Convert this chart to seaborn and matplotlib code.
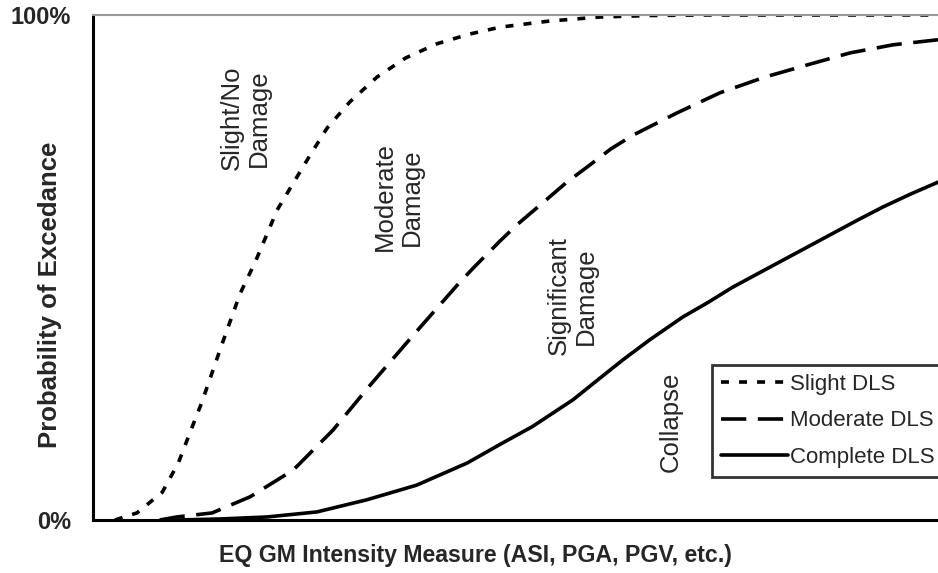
import numpy as np
import pandas as pd
import matplotlib
matplotlib.use("Agg")
import matplotlib.pyplot as plt
import seaborn as sns

# fragility curves (x = relative intensity measure, 0-100)
slight_x = [2.6, 5.2, 8.2, 10.1, 11.5, 12.9, 15.2, 17.4, 19.2, 21.8, 23.7, 25.6, 27.7,
            30.4, 33.6, 37.0, 40.7, 44.5, 48.2, 54.0, 60.0, 66.0, 72.0, 100.0]
slight_p = [0.0, 0.014, 0.055, 0.113, 0.174, 0.234, 0.345, 0.448, 0.511, 0.614, 0.667, 0.720, 0.776,
            0.828, 0.877, 0.915, 0.943, 0.962, 0.976, 0.988, 0.996, 0.999, 1.0, 1.0]

moderate_x = [7.9, 9.9, 14.1, 18.6, 23.7, 28.4, 32.8, 37.9, 43.1, 45.0, 48.2, 50.2, 53.5, 56.0,
              58.8, 61.3, 63.9, 69.1, 74.2, 79.5, 84.5, 89.6, 94.7, 100.0]
moderate_p = [0.0, 0.006, 0.014, 0.046, 0.099, 0.178, 0.267, 0.366, 0.465, 0.499, 0.553, 0.585, 0.632, 0.668,
              0.703, 0.735, 0.762, 0.806, 0.846, 0.877, 0.901, 0.925, 0.941, 0.951]

complete_x = [9.9, 15.0, 20.6, 26.5, 32.4, 38.3, 44.3, 48.2, 52.0, 56.8, 60.0, 62.7, 65.9, 69.8,
              72.8, 75.7, 78.7, 81.7, 84.6, 87.6, 90.5, 93.5, 96.7, 100.0]
complete_p = [0.0, 0.002, 0.006, 0.016, 0.040, 0.069, 0.113, 0.150, 0.185, 0.238, 0.281, 0.317, 0.357, 0.402,
              0.431, 0.461, 0.488, 0.515, 0.541, 0.568, 0.594, 0.620, 0.645, 0.669]

states = ["Slight DLS", "Moderate DLS", "Complete DLS"]
damage_labels = ["Slight/No\nDamage", "Moderate\nDamage", "Significant\nDamage", "Collapse"]
label_x = [18.0, 36.1, 56.7, 68.4]
label_p = [0.796, 0.640, 0.444, 0.194]

df = pd.concat([
    pd.DataFrame({"im": slight_x, "p": slight_p, "state": states[0]}),
    pd.DataFrame({"im": moderate_x, "p": moderate_p, "state": states[1]}),
    pd.DataFrame({"im": complete_x, "p": complete_p, "state": states[2]}),
])

sns.set_theme(style="white")
plt.rcParams['font.family'] = ['Liberation Sans', 'DejaVu Sans']

fig = plt.figure(figsize=(9.38, 5.73), dpi=100)
ax = fig.add_axes([93 / 938, 53 / 573, 845 / 938, 505 / 573])

sns.lineplot(data=df, x="im", y="p", style="state", style_order=states,
             dashes={states[0]: (2.2, 2.8), states[1]: (7, 3.2), states[2]: ""},
             color="black", linewidth=2.6, legend=False, estimator=None, sort=False, ax=ax)

ax.set_xlim(0, 100)
ax.set_ylim(0, 1)
ax.set_xticks([])
ax.set_yticks([0, 1])
ax.set_yticklabels(["0%", "100%"], fontsize=17, fontweight="bold")
ax.tick_params(axis="y", length=0, pad=16)

ax.set_xlabel("EQ GM Intensity Measure (ASI, PGA, PGV, etc.)", fontsize=16.7, fontweight="bold")
ax.set_ylabel("Probability of Excedance", fontsize=18.5, fontweight="bold")
ax.xaxis.set_label_coords(0.453, -0.048)
ax.yaxis.set_label_coords(-0.037, 0.446)

for s in ["left", "bottom"]:
    ax.spines[s].set_color("black")
    ax.spines[s].set_linewidth(2.2)
ax.spines["top"].set_color("#999999")
ax.spines["top"].set_linewidth(1.5)
ax.spines["right"].set_visible(False)

for txt, x, y in zip(damage_labels, label_x, label_p):
    ax.text(x, y, txt, rotation=90, ha="center", va="center", multialignment="center",
            fontsize=18.5, linespacing=1.15)

leg = ax.legend(ax.lines[:3], states, loc="upper left", bbox_to_anchor=(0.7325, 0.307),
                fontsize=16, frameon=True, fancybox=False, handlelength=3.0,
                handletextpad=0.1, labelspacing=0.7, borderpad=0.4, borderaxespad=0)
leg.get_frame().set_edgecolor("black")
leg.get_frame().set_linewidth(2)

fig.savefig("out.png", dpi=100)
